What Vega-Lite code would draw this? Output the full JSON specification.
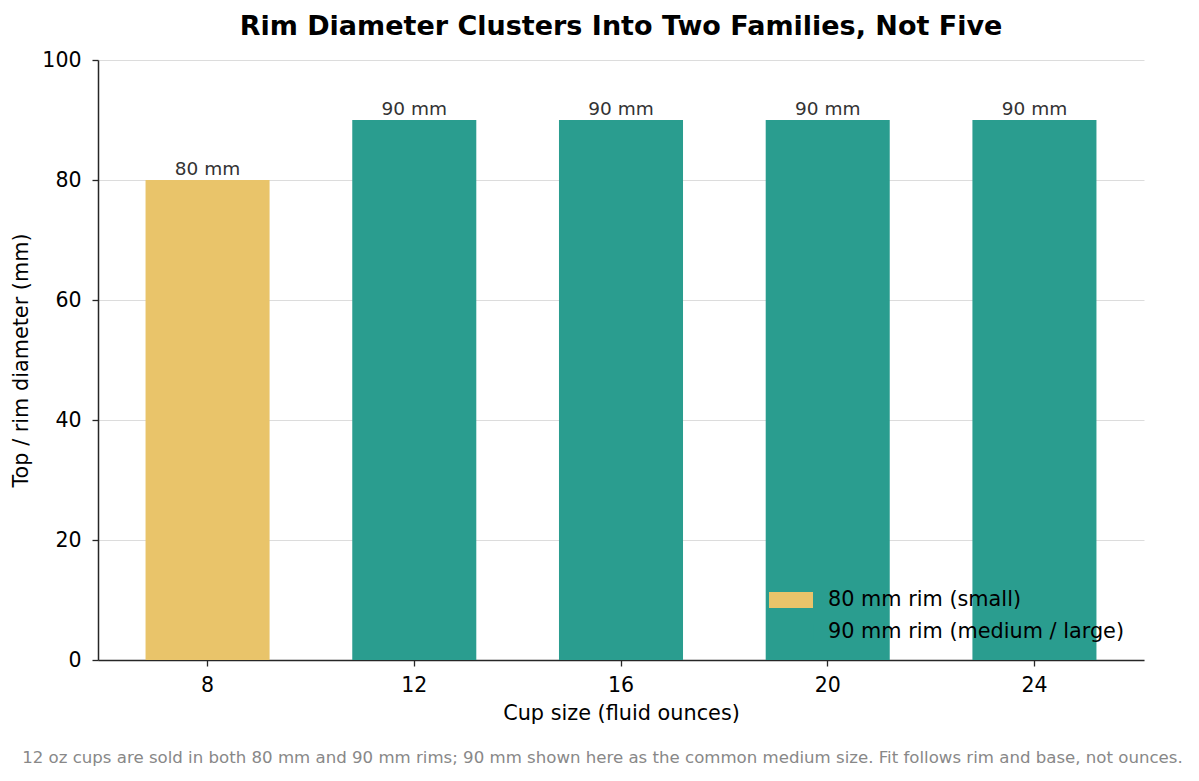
{
  "$schema": "https://vega.github.io/schema/vega-lite/v6.json",
  "padding": {"left": 10, "top": 13, "right": 55, "bottom": 10},
  "background": "white",
  "title": {
    "text": "12 oz cups are sold in both 80 mm and 90 mm rims; 90 mm shown here as the common medium size. Fit follows rim and base, not ounces.",
    "orient": "bottom",
    "anchor": "middle",
    "frame": "bounds",
    "fontSize": 16.6,
    "fontWeight": "normal",
    "color": "#888888",
    "font": "DejaVu Sans",
    "offset": 27,
    "dx": 25
  },
  "data": {
    "values": [
      {"size": "8", "rim": 80, "family": "80 mm rim (small)", "label": "80 mm"},
      {"size": "12", "rim": 90, "family": "90 mm rim (medium / large)", "label": "90 mm"},
      {"size": "16", "rim": 90, "family": "90 mm rim (medium / large)", "label": "90 mm"},
      {"size": "20", "rim": 90, "family": "90 mm rim (medium / large)", "label": "90 mm"},
      {"size": "24", "rim": 90, "family": "90 mm rim (medium / large)", "label": "90 mm"}
    ]
  },
  "vconcat": [
    {
      "width": 1046,
      "height": 600,
      "title": {
        "text": "Rim Diameter Clusters Into Two Families, Not Five",
        "fontSize": 27,
        "fontWeight": "bold",
        "font": "DejaVu Sans",
        "color": "black",
        "anchor": "middle",
        "frame": "group",
        "offset": 9
      },
      "encoding": {
        "x": {
          "field": "size",
          "type": "ordinal",
          "sort": null,
          "title": "Cup size (fluid ounces)",
          "scale": {"paddingInner": 0.4, "paddingOuter": 0.23},
          "axis": {"labelAngle": 0}
        },
        "y": {
          "field": "rim",
          "type": "quantitative",
          "title": "Top / rim diameter (mm)",
          "scale": {"domain": [0, 100], "nice": false},
          "axis": {"values": [0, 20, 40, 60, 80, 100], "grid": true}
        }
      },
      "layer": [
        {
          "mark": {"type": "bar"},
          "encoding": {
            "color": {
              "field": "family",
              "type": "nominal",
              "title": null,
              "scale": {
                "domain": ["80 mm rim (small)", "90 mm rim (medium / large)"],
                "range": ["#E9C46A", "#2A9D8F"]
              },
              "legend": {
                "orient": "none",
                "legendX": 678,
                "legendY": 525,
                "symbolType": "M-1.467,-0.533H1.467V0.533H-1.467Z",
                "symbolSize": 900,
                "symbolStrokeWidth": 0,
                "labelFontSize": 20.8,
                "labelFont": "DejaVu Sans",
                "labelColor": "black",
                "labelOffset": 22,
                "rowPadding": 7,
                "labelLimit": 400
              }
            }
          }
        },
        {
          "mark": {"type": "text", "baseline": "bottom", "dy": -1, "fontSize": 18.5, "font": "DejaVu Sans", "color": "#333333"},
          "encoding": {"text": {"field": "label"}}
        }
      ]
    }
  ],
  "config": {
    "view": {"stroke": null},
    "font": "DejaVu Sans",
    "axis": {
      "labelFont": "DejaVu Sans",
      "titleFont": "DejaVu Sans",
      "labelFontSize": 20.5,
      "titleFontSize": 20.8,
      "titleFontWeight": "normal",
      "labelColor": "black",
      "titleColor": "black",
      "domainColor": "#262626",
      "tickColor": "#262626",
      "tickSize": 6,
      "tickWidth": 1.3,
      "gridColor": "#dcdcdc",
      "labelPadding": 9
    },
    "axisX": {"grid": false, "titlePadding": 8, "domainWidth": 1.5},
    "axisY": {"titlePadding": 10, "domainWidth": 1.5, "labelPadding": 11}
  }
}
